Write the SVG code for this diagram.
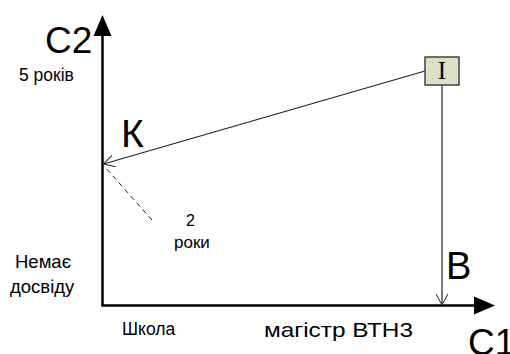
<svg xmlns="http://www.w3.org/2000/svg" width="510" height="354" viewBox="0 0 510 354">
<style>
.t{font-family:"Liberation Sans",Arial,sans-serif;fill:#000}
.ax{stroke:#000;stroke-width:2.5;fill:none}
.ln{stroke:#222;stroke-width:1.2;fill:none}
</style>
<defs>
<marker id="open" viewBox="0 0 12 12" refX="11" refY="6" markerWidth="12" markerHeight="12" markerUnits="userSpaceOnUse" orient="auto">
<path d="M0,0 L11,6 L0,12" fill="none" stroke="#222" stroke-width="1"/>
</marker>
</defs>
<g id="axes">
<line class="ax" x1="102.5" y1="306" x2="102.5" y2="32"/>
<polygon points="102.5,15 93.5,36 111.5,36" fill="#000"/>
<line class="ax" x1="101.5" y1="305.5" x2="478" y2="305.5"/>
<polygon points="495,305.5 474,296.5 474,314.5" fill="#000"/>
</g>
<g id="connectors">
<line class="ln" x1="425" y1="71" x2="103.5" y2="164" marker-end="url(#open)"/>
<line class="ln" x1="442" y1="85" x2="442" y2="305" marker-end="url(#open)"/>
<line x1="152" y1="220" x2="105" y2="167" stroke="#222" stroke-width="1" stroke-dasharray="5,4"/>
</g>
<g id="nodeI">
<rect x="425" y="57" width="34" height="28" fill="#dde0c8" stroke="#404040" stroke-width="1.5"/>
<text x="442" y="78.5" text-anchor="middle" font-family="Liberation Serif,Times New Roman,serif" font-size="25">I</text>
</g>
<g id="labels">
<text class="t" x="45" y="53" font-size="37">С2</text>
<text class="t" x="19" y="81" font-size="17.5">5 років</text>
<text class="t" x="121" y="147" font-size="39">К</text>
<text class="t" x="186" y="226" font-size="16">2</text>
<text class="t" x="174" y="248" font-size="17">роки</text>
<text class="t" x="15" y="268" font-size="18.5">Немає</text>
<text class="t" x="10" y="293" font-size="18.5">досвіду</text>
<text class="t" x="122" y="335" font-size="17.5">Школа</text>
<text class="t" x="264" y="337" font-size="21" textLength="149" lengthAdjust="spacingAndGlyphs">магістр ВТН3</text>
<text class="t" x="446" y="279" font-size="38">В</text>
<text class="t" x="468" y="355" font-size="37">С1</text>
</g>
</svg>
